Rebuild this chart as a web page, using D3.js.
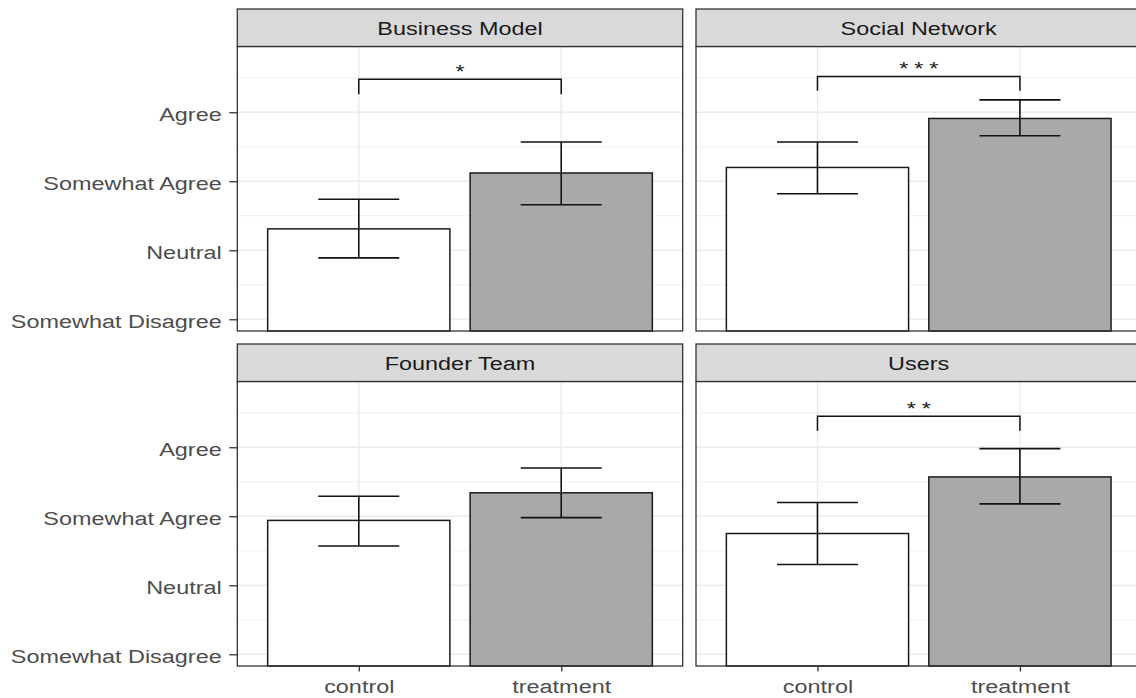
<!DOCTYPE html>
<html>
<head>
<meta charset="utf-8">
<script src="https://cdn.jsdelivr.net/npm/d3@7"></script>
<style>
  html, body { margin: 0; padding: 0; background: #fff; }
  svg { display: block; font-family: "Liberation Sans", Arial, sans-serif; }
</style>
</head>
<body>
<svg id="chart" width="1136" height="698"></svg>
<script>
// Facets, in panel order (row by row)
const facets = ["Business Model", "Social Network", "Founder Team", "Users"];
const groups = ["control", "treatment"];

// Mean ratings per facet
const meanControl   = [3.31, 4.20, 3.94, 3.75];
const meanTreatment = [4.12, 4.91, 4.34, 4.57];

// Error bar limits per facet
const lowControl    = [2.89, 3.82, 3.57, 3.30];
const highControl   = [3.74, 4.57, 4.29, 4.20];
const lowTreatment  = [3.66, 4.66, 3.98, 4.18];
const highTreatment = [4.57, 5.18, 4.70, 4.98];

// Significance brackets (empty label = no bracket)
const sigLabels = ["*", "***", "", "**"];
const sigLevel  = [5.48, 5.52, null, 5.45];
const sigTip    = [5.26, 5.31, null, 5.24];

// Likert axis
const yTickValues = [2, 3, 4, 5];
const yTickLabels = ["Somewhat Disagree", "Neutral", "Somewhat Agree", "Agree"];
const yMinor      = [2.5, 3.5, 4.5, 5.5];
const yDomain     = [1.83, 5.953];

// Layout
const colX = [237.3, 696];
const rowY = [9, 344];
const panelW = 445.4;
const stripH = 37.5;
const panelH = 284.5;
const fontPx = 18.6;
const stretch = 1.26;   // wide text rendering

const svg = d3.select("#chart");

function wideText(sel, x, y, str, anchor, fill) {
  return sel.append("text")
    .attr("transform", `translate(${x},${y}) scale(${stretch},1)`)
    .attr("text-anchor", anchor)
    .attr("font-size", fontPx)
    .attr("fill", fill)
    .text(str);
}

facets.forEach((name, i) => {
  const col = i % 2, row = Math.floor(i / 2);
  const x0 = colX[col], top = rowY[row];
  const pTop = top + stripH;
  const g = svg.append("g");

  const x = d3.scalePoint().domain(groups).range([x0, x0 + panelW]).padding(0.6);
  const step = x.step();
  const y = d3.scaleLinear().domain(yDomain).range([pTop + panelH, pTop]);

  // panel background
  g.append("rect").attr("x", x0).attr("y", pTop).attr("width", panelW).attr("height", panelH)
    .attr("fill", "#fff");

  // minor grid
  g.selectAll(".minor").data(yMinor).enter().append("line")
    .attr("x1", x0).attr("x2", x0 + panelW)
    .attr("y1", d => y(d)).attr("y2", d => y(d))
    .attr("stroke", "#F0F0F0").attr("stroke-width", 1.1);
  // major grid
  g.selectAll(".major").data(yTickValues).enter().append("line")
    .attr("x1", x0).attr("x2", x0 + panelW)
    .attr("y1", d => y(d)).attr("y2", d => y(d))
    .attr("stroke", "#EBEBEB").attr("stroke-width", 1.4);
  g.selectAll(".vmajor").data(groups).enter().append("line")
    .attr("x1", d => x(d)).attr("x2", d => x(d))
    .attr("y1", pTop).attr("y2", pTop + panelH)
    .attr("stroke", "#EBEBEB").attr("stroke-width", 1.4);

  // bars
  const rows = [
    { grp: "control",   mean: meanControl[i],   lo: lowControl[i],   hi: highControl[i],   fill: "#FFFFFF" },
    { grp: "treatment", mean: meanTreatment[i], lo: lowTreatment[i], hi: highTreatment[i], fill: "#A9A9A9" }
  ];
  const barW = step * 0.9, ebW = step * 0.4;
  g.selectAll(".bar").data(rows).enter().append("rect")
    .attr("x", d => x(d.grp) - barW / 2)
    .attr("width", barW)
    .attr("y", d => y(d.mean))
    .attr("height", d => y(yDomain[0]) - y(d.mean))
    .attr("fill", d => d.fill)
    .attr("stroke", "#1a1a1a").attr("stroke-width", 1.5);

  // error bars
  const eb = g.selectAll(".eb").data(rows).enter().append("g").attr("stroke", "#111").attr("stroke-width", 1.6);
  eb.append("line").attr("x1", d => x(d.grp)).attr("x2", d => x(d.grp))
    .attr("y1", d => y(d.lo)).attr("y2", d => y(d.hi));
  eb.append("line").attr("x1", d => x(d.grp) - ebW / 2).attr("x2", d => x(d.grp) + ebW / 2)
    .attr("y1", d => y(d.lo)).attr("y2", d => y(d.lo));
  eb.append("line").attr("x1", d => x(d.grp) - ebW / 2).attr("x2", d => x(d.grp) + ebW / 2)
    .attr("y1", d => y(d.hi)).attr("y2", d => y(d.hi));

  // significance bracket
  if (sigLabels[i]) {
    const xa = x("control"), xb = x("treatment");
    g.append("path")
      .attr("d", `M${xa},${y(sigTip[i])}V${y(sigLevel[i])}H${xb}V${y(sigTip[i])}`)
      .attr("fill", "none").attr("stroke", "#111").attr("stroke-width", 1.5);
    const stars = sigLabels[i].split("");
    const cx = (xa + xb) / 2, gap = 15;
    stars.forEach((s, k) => {
      wideText(g, cx + (k - (stars.length - 1) / 2) * gap, y(sigLevel[i]) - 1, s, "middle", "#1a1a1a");
    });
  }

  // panel border
  g.append("rect").attr("x", x0).attr("y", pTop).attr("width", panelW).attr("height", panelH)
    .attr("fill", "none").attr("stroke", "#333").attr("stroke-width", 1.3);

  // strip
  g.append("rect").attr("x", x0).attr("y", top).attr("width", panelW).attr("height", stripH)
    .attr("fill", "#D9D9D9").attr("stroke", "#333").attr("stroke-width", 1.3);
  wideText(g, x0 + panelW / 2, top + stripH / 2 + fontPx * 0.4, name, "middle", "#1A1A1A");

  // y axis on the left column
  if (col === 0) {
    const ay = g.append("g").attr("transform", `translate(${x0},0)`)
      .call(d3.axisLeft(y).tickValues(yTickValues).tickSize(8)
        .tickFormat((d, k) => yTickLabels[k]));
    ay.select(".domain").remove();
    ay.selectAll(".tick line").attr("stroke", "#333").attr("stroke-width", 1.3);
    ay.selectAll(".tick text")
      .attr("x", null).attr("dy", null)
      .attr("transform", `translate(-15.6,${fontPx * 0.43}) scale(${stretch},1)`)
      .attr("font-size", fontPx).attr("font-family", "Liberation Sans, Arial, sans-serif")
      .attr("fill", "#4D4D4D");
  }

  // x axis on the bottom row
  if (row === 1) {
    const ax = g.append("g").attr("transform", `translate(0,${pTop + panelH})`)
      .call(d3.axisBottom(x).tickSize(5.5));
    ax.select(".domain").remove();
    ax.selectAll(".tick line").attr("stroke", "#333").attr("stroke-width", 1.3);
    ax.selectAll(".tick text")
      .attr("y", null).attr("dy", null)
      .attr("transform", `translate(0,27.3) scale(${stretch},1)`)
      .attr("font-size", fontPx).attr("font-family", "Liberation Sans, Arial, sans-serif")
      .attr("fill", "#4D4D4D");
  }
});
</script>
</body>
</html>
